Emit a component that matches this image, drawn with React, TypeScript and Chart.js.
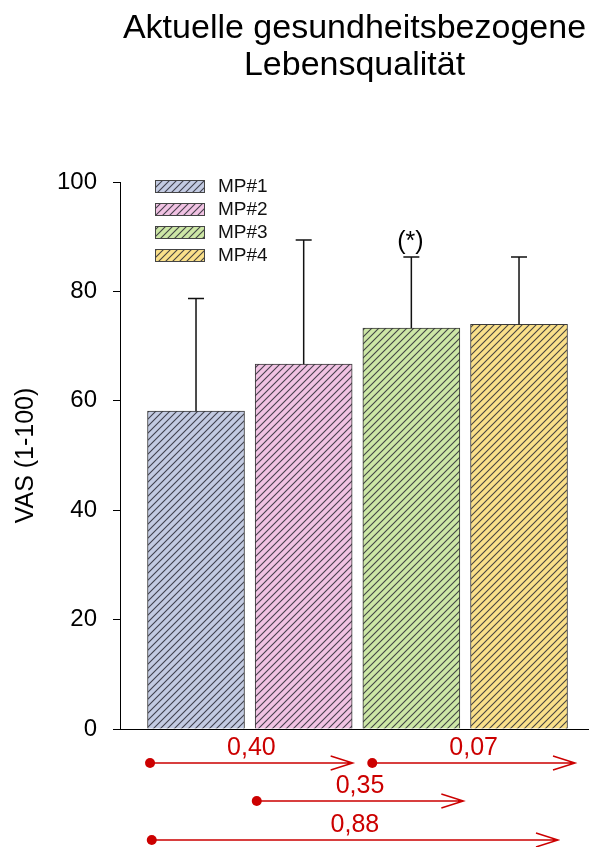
import React, { useEffect, useRef } from 'react';
import { Chart, registerables } from 'chart.js';

Chart.register(...registerables);

// ---------- data ----------
const categories = ['MP#1', 'MP#2', 'MP#3', 'MP#4'];
const positions = [1, 2, 3, 4];
const means = [58.1, 66.7, 73.3, 74.0];
const sdUpper = [20.6, 22.7, 13.0, 12.3];
const fillColors = ['#c3cbe2', '#f1c3e3', '#cde7a6', '#fae08a'];
const sigMarks = ['', '', '(*)', ''];
const titleLines = ['Aktuelle gesundheitsbezogene', 'Lebensqualität'];
const yAxisTitle = 'VAS (1-100)';
const yMin = 0;
const yMax = 100;
const yStep = 20;
const comparisonLabels = ['0,40', '0,07', '0,35', '0,88'];
const comparisonFrom = [0.573, 2.637, 1.564, 0.589];
const comparisonTo = [2.455, 4.52, 3.483, 4.362];
const comparisonRow = [0, 0, 1, 2];

const FONT = '"Liberation Sans", Arial, sans-serif';
const RED = '#cc0000';

function makeHatch(bg: string): CanvasPattern | string {
  const s = 7;
  const c = document.createElement('canvas');
  c.width = s;
  c.height = s;
  const g = c.getContext('2d');
  if (!g) return bg;
  g.fillStyle = bg;
  g.fillRect(0, 0, s, s);
  g.strokeStyle = 'rgba(40,40,50,0.85)';
  g.lineWidth = 1.1;
  g.beginPath();
  g.moveTo(-1, s + 1);
  g.lineTo(s + 1, -1);
  g.moveTo(-1, 1);
  g.lineTo(1, -1);
  g.moveTo(s - 1, s + 1);
  g.lineTo(s + 1, s - 1);
  g.stroke();
  return g.createPattern(c, 'repeat') || bg;
}

export default function App() {
  const ref = useRef<HTMLCanvasElement | null>(null);

  useEffect(() => {
    if (!ref.current) return;
    const patterns = fillColors.map(makeHatch);

    const annotPlugin = {
      id: 'annot',
      afterDatasetsDraw(chart: any) {
        const ctx: CanvasRenderingContext2D = chart.ctx;
        const xs = chart.scales.x;
        const ys = chart.scales.y;
        const area = chart.chartArea;
        const meta = chart.getDatasetMeta(0);
        ctx.save();

        // error bars
        ctx.strokeStyle = '#111';
        ctx.lineWidth = 1.5;
        meta.data.forEach((bar: any, i: number) => {
          const cx = bar.x;
          const base = ys.getPixelForValue(means[i]);
          const top = ys.getPixelForValue(means[i] + sdUpper[i]);
          ctx.beginPath();
          ctx.moveTo(cx, base);
          ctx.lineTo(cx, top);
          ctx.moveTo(cx - 8, top);
          ctx.lineTo(cx + 8, top);
          ctx.stroke();
          if (sigMarks[i]) {
            ctx.fillStyle = '#000';
            ctx.font = `25px ${FONT}`;
            ctx.textAlign = 'center';
            ctx.textBaseline = 'alphabetic';
            ctx.fillText(sigMarks[i], cx - 1, top - 8);
          }
        });

        // legend
        categories.forEach((label, i) => {
          const bx = area.left + 35;
          const by = area.top - 2 + i * 23;
          ctx.fillStyle = patterns[i] as any;
          ctx.fillRect(bx, by, 50, 13);
          ctx.strokeStyle = '#444';
          ctx.lineWidth = 1;
          ctx.strokeRect(bx + 0.5, by + 0.5, 49, 12);
          ctx.fillStyle = '#111';
          ctx.font = `19px ${FONT}`;
          ctx.textAlign = 'left';
          ctx.textBaseline = 'middle';
          ctx.fillText(label, area.left + 98, by + 7);
        });

        // comparison arrows
        const rowOffsets = [34, 72, 111];
        comparisonLabels.forEach((label, i) => {
          const sx = xs.getPixelForValue(comparisonFrom[i]);
          const ex = xs.getPixelForValue(comparisonTo[i]);
          const ry = area.bottom + rowOffsets[comparisonRow[i]];
          ctx.strokeStyle = RED;
          ctx.fillStyle = RED;
          ctx.lineWidth = 1.5;
          ctx.beginPath();
          ctx.moveTo(sx, ry);
          ctx.lineTo(ex, ry);
          ctx.moveTo(ex - 22, ry - 7);
          ctx.lineTo(ex, ry);
          ctx.lineTo(ex - 22, ry + 7);
          ctx.stroke();
          ctx.beginPath();
          ctx.arc(sx, ry, 5, 0, Math.PI * 2);
          ctx.fill();
          ctx.font = `25px ${FONT}`;
          ctx.textAlign = 'center';
          ctx.textBaseline = 'alphabetic';
          ctx.fillText(label, (sx + ex) / 2, ry - 8);
        });

        ctx.restore();
      },
    };

    const chart = new Chart(ref.current, {
      type: 'bar',
      data: {
        datasets: [
          {
            label: 'VAS',
            data: positions.map((p, i) => ({ x: p, y: means[i] })),
            backgroundColor: patterns as any,
            borderColor: '#3a3a3a',
            borderWidth: 1,
            barThickness: 97,
          } as any,
        ],
      },
      options: {
        responsive: false,
        animation: false,
        devicePixelRatio: 1,
        layout: { padding: { left: 0, right: 0, top: 0, bottom: 88 } },
        plugins: {
          legend: { display: false },
          tooltip: { enabled: false },
          title: {
            display: true,
            text: titleLines,
            fullSize: false,
            color: '#000',
            font: { family: FONT, size: 34, weight: 'normal', lineHeight: 37 / 34 },
            padding: { top: 10, bottom: 98 },
          },
        },
        scales: {
          x: {
            type: 'linear',
            offset: false,
            min: 0.294,
            max: 4.65,
            ticks: { display: false },
            grid: { display: false, drawTicks: false, offset: false },
            border: { display: true, color: '#000', width: 1 },
            afterFit: (s: any) => {
              s.height = 30;
            },
          },
          y: {
            min: yMin,
            max: yMax,
            ticks: {
              stepSize: yStep,
              color: '#000',
              padding: 16,
              font: { family: FONT, size: 24 },
            },
            grid: {
              display: true,
              drawOnChartArea: false,
              drawTicks: true,
              tickLength: 7,
              color: '#000',
              tickColor: '#000',
            },
            border: { display: true, color: '#000', width: 1 },
            title: {
              display: true,
              text: yAxisTitle,
              color: '#000',
              font: { family: FONT, size: 25 },
              padding: { top: 11, bottom: 0 },
            },
            afterFit: (s: any) => {
              s.width = 120;
            },
          },
        },
      } as any,
      plugins: [annotPlugin],
    });

    return () => chart.destroy();
  }, []);

  return (
    <div style={{ position: 'absolute', left: 0, top: 0, width: 589, height: 847 }}>
      <canvas ref={ref} width={589} height={847} style={{ display: 'block' }} />
    </div>
  );
}
